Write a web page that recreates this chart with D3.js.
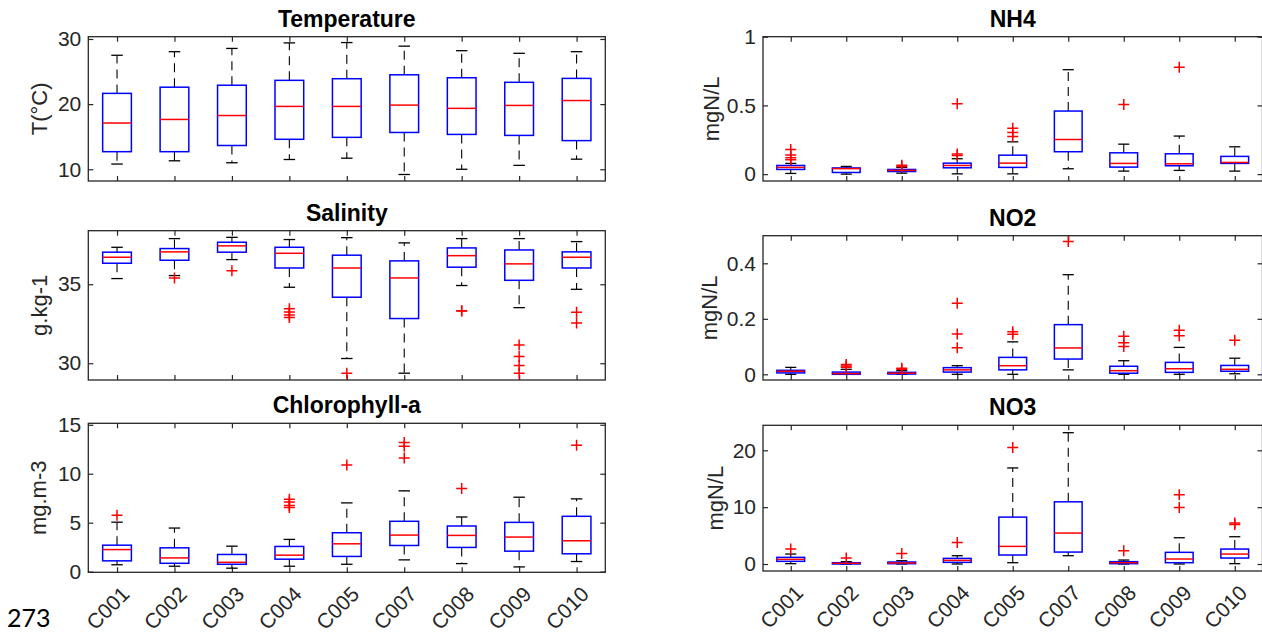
<!DOCTYPE html>
<html><head><meta charset="utf-8">
<script src="https://cdn.jsdelivr.net/npm/d3@7"></script>
<style>body{margin:0;background:#fff} svg{display:block}</style>
</head><body><svg id="c" width="1262" height="634"></svg>
<script>
const categories = ["C001","C002","C003","C004","C005","C007","C008","C009","C010"];
// each row: [lower whisker, Q1, median, Q3, upper whisker]
const tempStats = [
  [10.8, 12.7, 17.1, 21.65, 27.5],
  [11.3, 12.7, 17.65, 22.6, 28.05],
  [11.0, 13.65, 18.25, 22.9, 28.55],
  [11.5, 14.6, 19.65, 23.65, 29.4],
  [11.7, 14.9, 19.65, 23.9, 29.45],
  [9.2, 15.65, 19.85, 24.5, 28.9],
  [10.0, 15.35, 19.35, 24.05, 28.2],
  [10.6, 15.2, 19.8, 23.35, 27.8],
  [11.55, 14.4, 20.55, 23.95, 28.05]
];
const tempOutliers = [[],[],[],[],[],[],[],[],[]];

const salStats = [
  [35.36, 36.33, 36.71, 37.03, 37.34],
  [35.55, 36.52, 37.05, 37.26, 37.89],
  [36.56, 37.03, 37.43, 37.66, 37.97],
  [34.81, 36.03, 36.96, 37.34, 37.83],
  [30.30, 34.18, 36.03, 36.84, 37.95],
  [29.37, 32.83, 35.40, 36.48, 37.62],
  [34.92, 36.08, 36.81, 37.30, 37.89],
  [33.52, 35.25, 36.29, 37.17, 37.89],
  [34.68, 36.03, 36.71, 37.05, 37.70]
];
const salOutliers = [[],[35.4],[35.86],[33.45,33.25,33.05,32.9],[29.37],[],[33.33,33.3],[31.16,30.42,29.85,29.37],[33.23,32.55]];

const chlStats = [
  [0.7, 1.1, 2.25, 2.7, 5.05],
  [0.55, 0.85, 1.4, 2.43, 4.45],
  [0.35, 0.75, 0.95, 1.75, 2.6],
  [0.55, 1.27, 1.68, 2.57, 3.29],
  [0.75, 1.55, 2.84, 3.97, 7.02],
  [1.2, 2.67, 3.73, 5.14, 8.25],
  [0.82, 2.47, 3.70, 4.66, 5.58],
  [0.48, 2.09, 3.53, 5.03, 7.6],
  [1.03, 1.82, 3.15, 5.65, 7.43]
];
const chlOutliers = [[5.75],[],[],[7.4,7.1,6.75,6.55],[10.9],[13.2,12.8,11.6],[8.5],[],[12.9]];

const nh4Stats = [
  [0.005, 0.034, 0.049, 0.063, 0.078],
  [0.0, 0.012, 0.04, 0.045, 0.056],
  [0.007, 0.019, 0.027, 0.034, 0.049],
  [0.002, 0.046, 0.063, 0.08, 0.112],
  [0.002, 0.049, 0.08, 0.138, 0.235],
  [0.039, 0.163, 0.252, 0.459, 0.76],
  [0.022, 0.051, 0.078, 0.155, 0.218],
  [0.027, 0.061, 0.075, 0.148, 0.277],
  [0.022, 0.078, 0.085, 0.129, 0.199]
];
const nh4Outliers = [[0.18,0.14,0.12,0.105],[],[0.065,0.055],[0.512,0.146,0.136],[0.333,0.303,0.274],[],[0.507],[0.777],[]];

const no2Stats = [
  [0.0, 0.005, 0.011, 0.0144, 0.025],
  [0.0, 0.0, 0.0025, 0.008, 0.018],
  [0.0, 0.001, 0.004, 0.007, 0.013],
  [0.0, 0.008, 0.016, 0.024, 0.031],
  [0.0, 0.016, 0.031, 0.061, 0.117],
  [0.016, 0.055, 0.095, 0.179, 0.359],
  [0.0, 0.004, 0.013, 0.029, 0.049],
  [0.0, 0.007, 0.02, 0.043, 0.097],
  [0.002, 0.011, 0.018, 0.032, 0.058]
];
const no2Outliers = [[],[0.035,0.03,0.025],[0.022,0.018],[0.256,0.145,0.096],[0.153,0.144],[0.479],[0.137,0.114,0.1],[0.159,0.139],[0.123]];

const no3Stats = [
  [0.06, 0.47, 0.82, 1.17, 1.75],
  [0.0, 0.0, 0.12, 0.23, 0.41],
  [0.0, 0.06, 0.18, 0.35, 0.58],
  [0.0, 0.29, 0.64, 0.99, 1.46],
  [0.23, 1.58, 3.1, 8.25, 16.9],
  [1.46, 2.1, 5.44, 10.94, 23.1],
  [0.0, 0.06, 0.23, 0.41, 0.7],
  [0.0, 0.23, 0.88, 2.05, 4.62],
  [0.06, 1.05, 1.75, 2.63, 4.8]
];
const no3Outliers = [[2.63],[1.05],[1.87],[3.8],[20.5],[],[2.34],[12.2,9.94],[7.2,6.95]];

const tempTicks = [10, 20, 30];
const salTicks = [30, 35];
const chlTicks = [0, 5, 10, 15];
const nh4Ticks = [0, 0.5, 1];
const no2Ticks = [0, 0.2, 0.4];
const no3Ticks = [0, 10, 20];

const panels = [
  {title:"Temperature", ylabel:"T(°C)", stats:tempStats, out:tempOutliers, domain:[8.2,30.35], ticks:tempTicks, x0:88.3, x1:605.3, y0:36.7, y1:181, lx:47, xl:false},
  {title:"Salinity", ylabel:"g.kg-1", stats:salStats, out:salOutliers, domain:[28.94,38.39], ticks:salTicks, x0:88.3, x1:605.3, y0:230.7, y1:380, lx:47, xl:false},
  {title:"Chlorophyll-a", ylabel:"mg.m-3", stats:chlStats, out:chlOutliers, domain:[-0.07,15.15], ticks:chlTicks, x0:88.3, x1:605.3, y0:423.3, y1:572.3, lx:46, xl:true},
  {title:"NH4", ylabel:"mgN/L", stats:nh4Stats, out:nh4Outliers, domain:[-0.05,1], ticks:nh4Ticks, x0:763, x1:1262.5, y0:36.7, y1:181, lx:719, xl:false},
  {title:"NO2", ylabel:"mgN/L", stats:no2Stats, out:no2Outliers, domain:[-0.0205,0.4995], ticks:no2Ticks, x0:763, x1:1262.5, y0:235.7, y1:380, lx:717, xl:false},
  {title:"NO3", ylabel:"mgN/L", stats:no3Stats, out:no3Outliers, domain:[-1.23,24.4], ticks:no3Ticks, x0:763, x1:1262.5, y0:425.3, y1:571, lx:723, xl:true}
];

const FONT = "'Liberation Sans', Arial, Helvetica, sans-serif";
const AX = "#262626";
const svg = d3.select("#c");

panels.forEach(p => {
  const x = d3.scaleLinear().domain([0.5, categories.length + 0.5]).range([p.x0, p.x1]);
  const y = d3.scaleLinear().domain(p.domain).range([p.y1, p.y0]);
  const g = svg.append("g");
  const idx = d3.range(1, categories.length + 1);

  const bottom = g.append("g").attr("transform", `translate(0,${p.y1})`)
    .call(d3.axisBottom(x).tickValues(idx).tickSizeInner(-5).tickSizeOuter(0)
      .tickFormat(i => p.xl ? categories[i-1] : ""));
  const top = g.append("g").attr("transform", `translate(0,${p.y0})`)
    .call(d3.axisTop(x).tickValues(idx).tickSizeInner(-5).tickSizeOuter(0).tickFormat(""));
  const left = g.append("g").attr("transform", `translate(${p.x0},0)`)
    .call(d3.axisLeft(y).tickValues(p.ticks).tickSizeInner(-5).tickSizeOuter(0).tickPadding(7)
      .tickFormat(d => String(d)));
  const right = g.append("g").attr("transform", `translate(${p.x1},0)`)
    .call(d3.axisRight(y).tickValues(p.ticks).tickSizeInner(-5).tickSizeOuter(0).tickFormat(""));
  [bottom, top, left, right].forEach(a => {
    a.select(".domain").remove();
    a.selectAll("line").attr("stroke", AX).attr("stroke-width", 1.2);
    a.selectAll("text").attr("fill", AX).style("font-family", FONT).style("font-size", "21px");
  });
  if (p.xl) {
    bottom.selectAll("text")
      .attr("x", 0).attr("y", 0).attr("dy", "0.35em")
      .attr("text-anchor", "end")
      .attr("transform", "translate(8,18) rotate(-45)");
  }
  g.append("rect").attr("x", p.x0).attr("y", p.y0)
    .attr("width", p.x1 - p.x0).attr("height", p.y1 - p.y0)
    .attr("fill", "none").attr("stroke", AX).attr("stroke-width", 1.3);

  g.append("text").attr("x", (p.x0 + p.x1) / 2).attr("y", p.y0 - 10)
    .attr("text-anchor", "middle").style("font-family", FONT).style("font-size", "23px")
    .style("font-weight", "bold").attr("fill", "#000").text(p.title);
  g.append("text").attr("transform", `translate(${p.lx},${(p.y0 + p.y1) / 2}) rotate(-90)`)
    .attr("text-anchor", "middle").style("font-family", FONT).style("font-size", "22px")
    .attr("fill", AX).text(p.ylabel);

  const bw = (x(2) - x(1)) * 0.5;
  const cw = bw * 0.4;
  p.stats.forEach((s, i) => {
    const cx = x(i + 1);
    const [lw, q1, med, q3, uw] = s;
    const bg = g.append("g");
    bg.append("line").attr("x1", cx).attr("x2", cx).attr("y1", y(q3)).attr("y2", y(uw))
      .attr("stroke", "#000").attr("stroke-width", 1.1).attr("stroke-dasharray", "9,6");
    bg.append("line").attr("x1", cx).attr("x2", cx).attr("y1", y(q1)).attr("y2", y(lw))
      .attr("stroke", "#000").attr("stroke-width", 1.1).attr("stroke-dasharray", "9,6");
    [uw, lw].forEach(v => bg.append("line").attr("x1", cx - cw / 2).attr("x2", cx + cw / 2)
      .attr("y1", y(v)).attr("y2", y(v)).attr("stroke", "#000").attr("stroke-width", 1.3));
    bg.append("rect").attr("x", cx - bw / 2).attr("y", y(q3)).attr("width", bw)
      .attr("height", Math.max(0.01, y(q1) - y(q3))).attr("fill", "none")
      .attr("stroke", "#0000ff").attr("stroke-width", 1.5);
    bg.append("line").attr("x1", cx - bw / 2).attr("x2", cx + bw / 2)
      .attr("y1", y(med)).attr("y2", y(med)).attr("stroke", "#ff0000").attr("stroke-width", 1.5);
    p.out[i].forEach(v => {
      const yy = y(v);
      bg.append("path").attr("d", `M${cx - 5.5},${yy}H${cx + 5.5}M${cx},${yy - 5.5}V${yy + 5.5}`)
        .attr("stroke", "#ff0000").attr("stroke-width", 1.5).attr("fill", "none");
    });
  });
});

svg.append("text").attr("x", 7).attr("y", 627).style("font-family", "Lato, 'Open Sans', sans-serif")
  .style("font-size", "25px").attr("fill", "#000").text("273");
</script></body></html>
